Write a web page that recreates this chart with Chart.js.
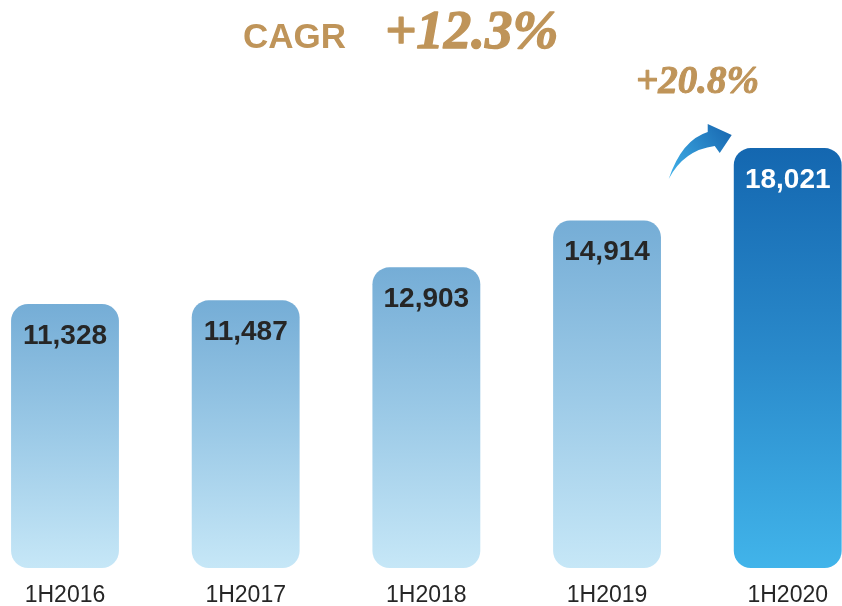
<!DOCTYPE html>
<html>
<head>
<meta charset="utf-8">
<script src="https://cdn.jsdelivr.net/npm/chart.js@4.4.1/dist/chart.umd.min.js"></script>
<style>
  html, body { margin: 0; padding: 0; background: #ffffff; }
  #wrap { width: 842px; height: 606px; position: relative; }
</style>
</head>
<body>
<div id="wrap"><canvas id="c" width="842" height="606"></canvas></div>
<script>
const categories = ['1H2016', '1H2017', '1H2018', '1H2019', '1H2020'];
const values = [11328, 11487, 12903, 14914, 18021];
const valueLabels = ['11,328', '11,487', '12,903', '14,914', '18,021'];
const cagrLabel = 'CAGR';
const cagrValue = '+12.3%';
const growthLabel = '+20.8%';

const GOLD = '#bf9459';

function barGradient(ctx) {
  const chart = ctx.chart;
  if (!chart.chartArea || ctx.parsed === undefined) return '#9dcbe8';
  const y = chart.scales.y;
  const top = y.getPixelForValue(ctx.parsed.y);
  const bottom = y.getPixelForValue(0);
  const g = chart.ctx.createLinearGradient(0, top, 0, bottom);
  if (ctx.dataIndex === values.length - 1) {
    g.addColorStop(0, '#1467b0');
    g.addColorStop(0.5, '#2a8acb');
    g.addColorStop(1, '#41b4ea');
  } else {
    g.addColorStop(0, '#75add6');
    g.addColorStop(0.5, '#9ccae7');
    g.addColorStop(1, '#c6e7f7');
  }
  return g;
}

const decorPlugin = {
  id: 'decor',
  afterDatasetsDraw(chart) {
    const c = chart.ctx;
    const meta = chart.getDatasetMeta(0);
    c.save();
    // value labels inside bars
    c.font = 'bold 28px "Liberation Sans", Arial, sans-serif';
    c.textAlign = 'center';
    c.textBaseline = 'top';
    meta.data.forEach((bar, i) => {
      c.fillStyle = (i === values.length - 1) ? '#ffffff' : '#262626';
      c.fillText(valueLabels[i], bar.x, bar.y + 18);
    });

    // CAGR header
    c.textAlign = 'left';
    c.textBaseline = 'alphabetic';
    c.fillStyle = GOLD;
    c.strokeStyle = GOLD;
    c.lineJoin = 'round';
    c.font = 'bold 35px "Liberation Sans", Arial, sans-serif';
    c.fillText(cagrLabel, 243, 48);
    c.font = 'italic bold 55px "Liberation Serif", "Times New Roman", serif';
    c.lineWidth = 1.4;
    c.fillText(cagrValue, 385, 48);
    c.strokeText(cagrValue, 385, 48);

    // growth label
    c.font = 'italic bold 39px "Liberation Serif", "Times New Roman", serif';
    c.lineWidth = 1;
    c.fillText(growthLabel, 636, 93);
    c.strokeText(growthLabel, 636, 93);

    // curved arrow, placed relative to last bar
    const last = meta.data[values.length - 1];
    const bx = last.x, by = last.y;
    const P = (dx, dy) => [bx + dx, by + dy];
    const tail = P(-119, 31);
    const g = c.createLinearGradient(tail[0], tail[1], bx - 57, by - 13);
    g.addColorStop(0, '#41b2ea');
    g.addColorStop(1, '#1a6bb3');
    c.fillStyle = g;
    c.beginPath();
    c.moveTo(...tail);
    c.quadraticCurveTo(...P(-106, -8), ...P(-80, -16));
    c.lineTo(...P(-80, -24));
    c.lineTo(...P(-56, -13));
    c.lineTo(...P(-68, 5));
    c.lineTo(...P(-73, -2));
    c.quadraticCurveTo(...P(-104, 2), ...tail);
    c.closePath();
    c.fill();
    c.restore();
  }
};

new Chart(document.getElementById('c'), {
  type: 'bar',
  data: {
    labels: categories,
    datasets: [{
      data: values,
      backgroundColor: barGradient,
      borderRadius: 17,
      borderSkipped: false,
      borderWidth: 0,
      categoryPercentage: 1,
      barPercentage: 0.597,
      clip: false
    }]
  },
  options: {
    responsive: false,
    animation: false,
    devicePixelRatio: 1,
    layout: { padding: { top: 102, left: 65, right: 53, bottom: 0 } },
    plugins: {
      legend: { display: false },
      tooltip: { enabled: false }
    },
    scales: {
      x: {
        offset: false,
        grid: { display: false, drawTicks: false },
        border: { display: false },
        ticks: {
          color: '#262626',
          padding: 14,
          font: { family: '"Liberation Sans", Arial, sans-serif', size: 23, lineHeight: 1.2 },
          maxRotation: 0,
          autoSkip: false
        },
        afterFit(scale) { scale.height = 38; }
      },
      y: {
        display: false,
        min: 0,
        max: 20000
      }
    }
  },
  plugins: [decorPlugin]
});
</script>
</body>
</html>
